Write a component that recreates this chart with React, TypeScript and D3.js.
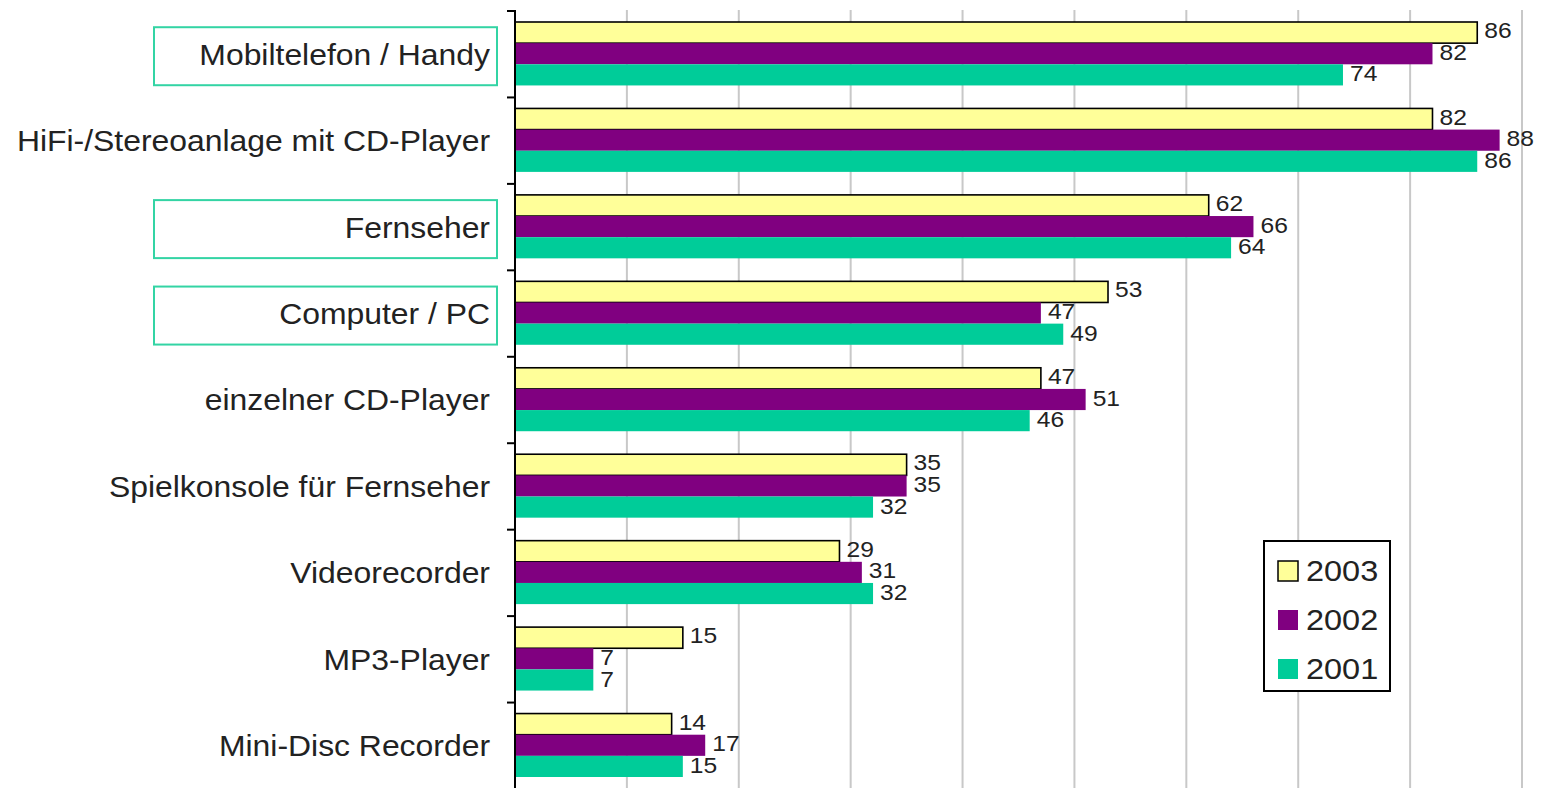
import React from "react";
import * as d3 from "d3";

const categories = [
  "Mobiltelefon / Handy",
  "HiFi-/Stereoanlage mit CD-Player",
  "Fernseher",
  "Computer / PC",
  "einzelner CD-Player",
  "Spielkonsole für Fernseher",
  "Videorecorder",
  "MP3-Player",
  "Mini-Disc Recorder",
];
const highlighted = [true, false, true, true, false, false, false, false, false];
const seriesNames = ["2003", "2002", "2001"];
const values2003 = [86, 82, 62, 53, 47, 35, 29, 15, 14];
const values2002 = [82, 88, 66, 47, 51, 35, 31, 7, 17];
const values2001 = [74, 86, 64, 49, 46, 32, 32, 7, 15];
const xTicks = [0, 10, 20, 30, 40, 50, 60, 70, 80, 90];

const colors = ["#FFFF99", "#800080", "#00CC99"];
const FONT = "'Liberation Sans', Arial, Helvetica, sans-serif";

export default function App() {
  const W = 1542;
  const H = 788;
  const x0 = 515;
  const x1 = 1522;
  const top = 11;
  const bottom = 789;
  const series = [values2003, values2002, values2001];

  const x = d3.scaleLinear().domain([0, 90]).range([x0, x1]);
  const y = d3.scaleBand<string>().domain(categories).range([top, bottom]).padding(0);
  const bw = y.bandwidth();
  const sub = d3
    .scaleBand<string>()
    .domain(seriesNames)
    .range([11, bw - 12])
    .padding(0);
  const sbw = sub.bandwidth();
  const SX = 1.1;

  return (
    <svg
      width={W}
      height={H}
      style={{ position: "absolute", left: 0, top: 0, background: "#fff" }}
      fontFamily={FONT}
    >
      {/* gridlines */}
      {xTicks.slice(1).map((t) => (
        <line
          key={t}
          x1={x(t)}
          x2={x(t)}
          y1={top - 1}
          y2={H}
          stroke="#c8c8c8"
          strokeWidth={2}
        />
      ))}

      {/* bars */}
      {categories.map((c, ci) => (
        <g key={c}>
          {series.map((vals, si) => {
            const yy = (y(c) as number) + (sub(seriesNames[si]) as number);
            return (
              <rect
                key={si}
                x={x(0)}
                y={yy}
                width={x(vals[ci]) - x(0)}
                height={sbw}
                fill={colors[si]}
                stroke={si === 0 ? "#000" : "none"}
                strokeWidth={si === 0 ? 1.6 : 0}
              />
            );
          })}
          {series.map((vals, si) => {
            const yy = (y(c) as number) + (sub(seriesNames[si]) as number) + sbw / 2;
            return (
              <text
                key={"l" + si}
                transform={`translate(${x(vals[ci]) + 7},${yy - 2 + si * 0.5}) scale(1.12,1)`}
                dominantBaseline="central"
                fontSize={22}
                fill="#222"
              >
                {vals[ci]}
              </text>
            );
          })}
        </g>
      ))}

      {/* category axis */}
      <line x1={x0} x2={x0} y1={top - 1} y2={H} stroke="#000" strokeWidth={2} />
      {d3.range(categories.length + 1).map((i) => {
        const yy = top + i * bw;
        return <line key={i} x1={x0 - 8} x2={x0} y1={yy} y2={yy} stroke="#000" strokeWidth={2} />;
      })}

      {/* category labels */}
      {categories.map((c, ci) => {
        const cy = (y(c) as number) + bw / 2;
        return (
          <g key={"c" + c}>
            {highlighted[ci] && (
              <rect
                x={154}
                y={cy - 27}
                width={343}
                height={58}
                fill="none"
                stroke="#33D4A4"
                strokeWidth={2}
              />
            )}
            <text
              transform={`translate(490,${cy}) scale(${SX},1)`}
              textAnchor="end"
              dominantBaseline="central"
              fontSize={29}
              fill="#222"
            >
              {c}
            </text>
          </g>
        );
      })}

      {/* legend */}
      <g>
        <rect x={1264} y={541} width={126} height={150} fill="#fff" stroke="#000" strokeWidth={2} />
        {seriesNames.map((s, i) => {
          const cy = 571 + i * 49;
          return (
            <g key={s}>
              <rect
                x={1278}
                y={cy - 10}
                width={20}
                height={20}
                fill={colors[i]}
                stroke={i === 0 ? "#000" : "none"}
                strokeWidth={1.5}
              />
              <text
                transform={`translate(1306,${cy}) scale(1.12,1)`}
                dominantBaseline="central"
                fontSize={29}
                fill="#222"
              >
                {s}
              </text>
            </g>
          );
        })}
      </g>
    </svg>
  );
}
